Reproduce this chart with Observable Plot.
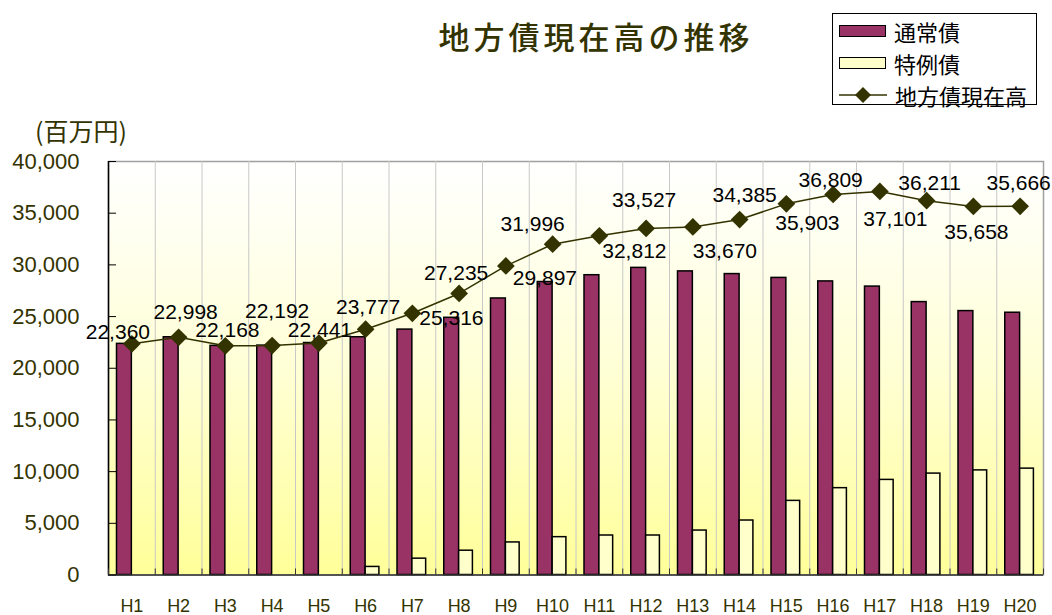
<!DOCTYPE html>
<html>
<head>
<meta charset="utf-8">
<script src="https://cdn.jsdelivr.net/npm/d3@7"></script>
<script src="https://cdn.jsdelivr.net/npm/@observablehq/plot@0.6"></script>
<style>
  body { margin: 0; background: #ffffff; }
  #wrap { position: relative; width: 1052px; height: 615px; overflow: hidden; background: #ffffff; }
  #chart { position: absolute; left: 0; top: 0; }
  .cjk { font-family: "Noto Sans CJK JP", "Noto Sans", sans-serif; }
  #title { position: absolute; left: 396px; top: 19px; width: 400px; text-align: center;
           font-size: 31px; line-height: 34px; letter-spacing: 4px; color: #333300; font-weight: 500; }
  #unit { position: absolute; left: 35px; top: 115px; font-size: 25px; line-height: 30px; color: #333300; }
  #legend { position: absolute; left: 832px; top: 13px; width: 203px; height: 90px;
            border: 1px solid #000; background: #fff; }
  .row { position: absolute; left: 6px; height: 30px; display: flex; align-items: center; }
  .row span { margin-left: 8px; font-size: 22px; line-height: 30px; color: #000; }
  .sw { width: 45px; height: 10px; border: 1.5px solid #000; }
</style>
</head>
<body>
<div id="wrap">
  <div id="chart"></div>
  <div id="title" class="cjk">地方債現在高の推移</div>
  <div id="unit" class="cjk">(百万円)</div>
  <div id="legend" class="cjk"></div>
</div>
<script>
// ---- data ----
const years = ["H1","H2","H3","H4","H5","H6","H7","H8","H9","H10","H11","H12","H13","H14","H15","H16","H17","H18","H19","H20"];
const totals = [22360,22998,22168,22192,22441,23777,25316,27235,29897,31996,32812,33527,33670,34385,35903,36809,37101,36211,35658,35666];
const regular = [22360,22998,22168,22192,22441,23000,23740,24880,26750,28340,29000,29710,29370,29110,28740,28400,27900,26400,25530,25370];
const special = [0,0,0,0,0,780,1580,2350,3150,3660,3820,3820,4300,5270,7170,8400,9200,9810,10120,10290];
const yTicks = [0,5000,10000,15000,20000,25000,30000,35000,40000];
const seriesNames = ["通常債","特例債","地方債現在高"];

// ---- layout (label offsets in pixels, relative to each point) ----
const labelDx = [-14, 7, 2, 5, 1, 2.5, 39, -3, 39, -20, 35, -2, 32, 5, 21, -2.5, 15.5, 3, 3, -1.5];
const labelDy = [-11.6, -24.5, -15.6, -34, -12.5, -22, 5, -20, 12, -20, 15.6, -28, 24, -24, 19, -14.3, 28, -17, 25.5, -23];

const olive = "#333300";
const purple = "#993366";
const cream = "#ffffcc";
const fmt = d3.format(",");

const rows = years.map((name, k) => ({i: k + 1, name, total: totals[k], regular: regular[k], special: special[k]}));

const svg = Plot.plot({
  width: 1052,
  height: 615,
  marginLeft: 108,
  marginRight: 9,
  marginTop: 161,
  marginBottom: 40.5,
  style: {fontFamily: "'Liberation Sans', Arial, sans-serif", background: "transparent", overflow: "visible"},
  x: {domain: [0.5, 20.5], axis: null, label: null},
  y: {domain: [0, 40000], axis: null, label: null},
  marks: [
    Plot.frame({fill: "url(#bgGrad)", stroke: "#a0a0a0", strokeWidth: 1.5}),
    Plot.ruleX(d3.range(1.5, 20.5, 1), {stroke: "#c8c8c8", strokeWidth: 1}),
    Plot.rectY(rows, {x1: d => d.i - 0.5, x2: d => d.i + 0.5, y: "regular", fill: purple, stroke: "#000", strokeWidth: 1.5, insetLeft: 8.5, insetRight: 23.4}),
    Plot.rectY(rows.filter(d => d.special > 0), {x1: d => d.i - 0.5, x2: d => d.i + 0.5, y: "special", fill: cream, stroke: "#000", strokeWidth: 1.5, insetLeft: 23.4, insetRight: 9.6}),
    Plot.ruleX([0.5], {stroke: "#000", strokeWidth: 1.5}),
    Plot.ruleY([0], {stroke: "#333", strokeWidth: 1.5}),
    Plot.axisY(yTicks, {anchor: "left", tickSize: -8, fill: "none", stroke: "#000", label: null}),
    Plot.axisY(yTicks, {anchor: "left", tickSize: 0, tickPadding: 29, tickFormat: fmt, fontSize: 22, fill: olive, label: null}),
    Plot.axisX(d3.range(0.5, 21, 1), {anchor: "bottom", tickSize: -6, fill: "none", stroke: "#333", label: null}),
    Plot.axisX(rows.map(d => d.i), {anchor: "bottom", tickSize: 0, tickPadding: 24, tickFormat: i => years[i - 1], fontSize: 18, fill: olive, label: null}),
    Plot.line(rows, {x: "i", y: "total", stroke: olive, strokeWidth: 1.5}),
    Plot.dot(rows, {x: "i", y: "total", symbol: "diamond2", r: 8, fill: olive, stroke: "none"}),
    ...rows.map((d, k) => Plot.text([d], {x: "i", y: "total", text: r => fmt(r.total), dx: labelDx[k], dy: labelDy[k], fontSize: 21, fill: "#000"}))
  ]
});

const ns = "http://www.w3.org/2000/svg";
const defs = document.createElementNS(ns, "defs");
defs.innerHTML = '<linearGradient id="bgGrad" x1="0" y1="0" x2="0" y2="1"><stop offset="0" stop-color="#ffffff"/><stop offset="0.5" stop-color="#ffffd6"/><stop offset="1" stop-color="#ffff99"/></linearGradient>';
svg.insertBefore(defs, svg.firstChild);
document.getElementById("chart").appendChild(svg);

// ---- legend ----
const legend = document.getElementById("legend");
const rowTops = [2, 34, 66];
seriesNames.forEach((name, k) => {
  const row = document.createElement("div");
  row.className = "row";
  row.style.top = rowTops[k] + "px";
  let sw;
  if (k < 2) {
    sw = document.createElement("div");
    sw.className = "sw";
    sw.style.background = k === 0 ? purple : cream;
  } else {
    sw = document.createElementNS(ns, "svg");
    sw.setAttribute("width", 48);
    sw.setAttribute("height", 20);
    sw.innerHTML = `<line x1="0" y1="10" x2="48" y2="10" stroke="${olive}" stroke-width="1.5"/><path d="M24,2 L32,10 L24,18 L16,10 Z" fill="${olive}"/>`;
  }
  const label = document.createElement("span");
  label.textContent = name;
  row.appendChild(sw);
  row.appendChild(label);
  legend.appendChild(row);
});
</script>
</body>
</html>
